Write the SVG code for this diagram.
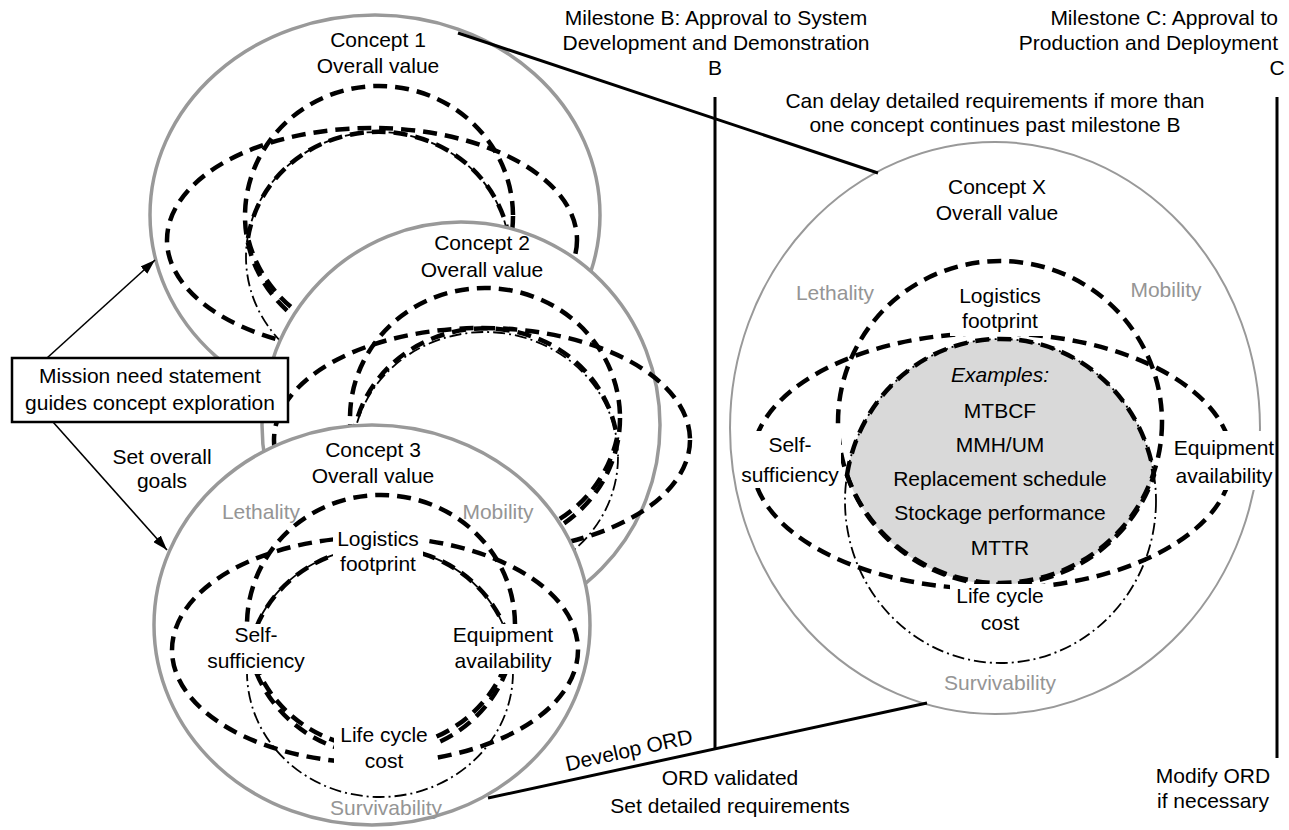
<svg xmlns="http://www.w3.org/2000/svg" width="1289" height="830" viewBox="0 0 1289 830">
<defs>
<style>
.outer{fill:#fff;stroke:#999;stroke-width:3.5}
.outerx{fill:#fff;stroke:#999;stroke-width:2}
.dash{fill:none;stroke:#000;stroke-width:4.5;stroke-dasharray:14 8}
.dd{fill:none;stroke:#000;stroke-width:1.8;stroke-dasharray:12 4 2 4}
.t{font-family:"Liberation Sans",Arial,Helvetica,sans-serif;font-size:21px;fill:#000;text-anchor:middle}
.gl{fill:#959595}
.bg{fill:#fff;stroke:none}
.ln{stroke:#000;stroke-width:3;fill:none}
.ar{stroke:#000;stroke-width:1.6;fill:none}
</style>
<marker id="ah" markerUnits="userSpaceOnUse" markerWidth="16" markerHeight="10" refX="15" refY="5" orient="auto">
<path d="M0,0 L15,5 L0,10 Z" fill="#000"/>
</marker>
</defs>
<rect width="1289" height="830" fill="#fff"/>

<g id="concept1">
<ellipse class="outer" cx="375" cy="215" rx="225" ry="200"/>
<ellipse class="dash" cx="379" cy="216" rx="134" ry="130"/>
<ellipse class="dash" cx="372" cy="240" rx="205" ry="112"/>
<ellipse class="dd" cx="378" cy="257" rx="132" ry="125"/>
<path class="dash" d="M 248 238 A 132 125 0 0 1 509 238 A 134 130 0 0 1 248 238 Z"/>
<text class="t" x="378" y="47">Concept 1</text>
<text class="t" x="378" y="73">Overall value</text>
</g>

<g id="concept2">
<ellipse class="outer" cx="461" cy="425" rx="199" ry="203"/>
<ellipse class="dash" cx="485" cy="418" rx="135" ry="130"/>
<ellipse class="dash" cx="482" cy="440" rx="208" ry="112"/>
<ellipse class="dd" cx="485" cy="457" rx="133" ry="125"/>
<path class="dash" d="M 353 438 A 133 125 0 0 1 617 438 A 135 130 0 0 1 353 438 Z"/>
<text class="t" x="482" y="250">Concept 2</text>
<text class="t" x="482" y="277">Overall value</text>
</g>

<g id="concept3">
<ellipse class="outer" cx="372" cy="625" rx="218" ry="200"/>
<ellipse class="dash" cx="381" cy="625" rx="134" ry="130"/>
<ellipse class="dash" cx="375" cy="650" rx="203" ry="113"/>
<ellipse class="dd" cx="380" cy="672" rx="133" ry="125"/>
<path class="dash" d="M 250 648 A 133 125 0 0 1 511 648 A 134 130 0 0 1 250 648 Z"/>
<text class="t" x="373" y="457">Concept 3</text>
<text class="t" x="373" y="483">Overall value</text>
<text class="t gl" x="261" y="519">Lethality</text>
<text class="t gl" x="498" y="519">Mobility</text>
<rect class="bg" x="333" y="528" width="90" height="48"/>
<text class="t" x="378" y="546">Logistics</text>
<text class="t" x="378" y="571">footprint</text>
<rect class="bg" x="205" y="624" width="103" height="50"/>
<text class="t" x="256" y="642">Self-</text>
<text class="t" x="256" y="668">sufficiency</text>
<rect class="bg" x="451" y="624" width="105" height="50"/>
<text class="t" x="503" y="642">Equipment</text>
<text class="t" x="503" y="668">availability</text>
<rect class="bg" x="334" y="724" width="101" height="50"/>
<text class="t" x="384" y="742">Life cycle</text>
<text class="t" x="384" y="768">cost</text>
<text class="t gl" x="386" y="815">Survivability</text>
</g>

<g id="conceptX">
<ellipse class="outerx" cx="995" cy="428" rx="265" ry="286"/>
<path d="M 847 475 A 155.5 162 0 0 1 1154 475 A 162 161 0 0 1 847 475 Z" fill="#d9d9d9"/>
<ellipse class="dash" cx="1000" cy="422" rx="162" ry="161"/>
<ellipse class="dash" cx="992" cy="461" rx="240" ry="128"/>
<ellipse class="dd" cx="1000.5" cy="501" rx="155.5" ry="162"/>
<path class="dash" d="M 847 475 A 155.5 162 0 0 1 1154 475 A 162 161 0 0 1 847 475 Z"/>
<text class="t" x="997" y="194">Concept X</text>
<text class="t" x="997" y="220">Overall value</text>
<text class="t gl" x="835" y="300">Lethality</text>
<text class="t gl" x="1166" y="297">Mobility</text>
<rect class="bg" x="950" y="283" width="98" height="53"/>
<text class="t" x="1000" y="303">Logistics</text>
<text class="t" x="1000" y="328">footprint</text>
<text class="t" x="1000" y="382" font-style="italic">Examples:</text>
<text class="t" x="1000" y="418">MTBCF</text>
<text class="t" x="1000" y="452">MMH/UM</text>
<text class="t" x="1000" y="486">Replacement schedule</text>
<text class="t" x="1000" y="520">Stockage performance</text>
<text class="t" x="1000" y="555">MTTR</text>
<rect class="bg" x="739" y="431" width="102" height="57"/>
<text class="t" x="790" y="452">Self-</text>
<text class="t" x="790" y="482">sufficiency</text>
<rect class="bg" x="1172" y="431" width="103" height="59"/>
<text class="t" x="1224" y="455">Equipment</text>
<text class="t" x="1224" y="483">availability</text>
<rect class="bg" x="950" y="584" width="100" height="52"/>
<text class="t" x="1000" y="603">Life cycle</text>
<text class="t" x="1000" y="630">cost</text>
<text class="t gl" x="1000" y="690">Survivability</text>
</g>

<g id="mission">
<rect x="12" y="358" width="276" height="64" fill="#fff" stroke="#000" stroke-width="2.5"/>
<text class="t" x="150" y="383">Mission need statement</text>
<text class="t" x="150" y="410">guides concept exploration</text>
</g>

<g id="connectors">
<line class="ar" x1="47" y1="358" x2="155" y2="260" marker-end="url(#ah)"/>
<line class="ar" x1="53" y1="422" x2="167" y2="550" marker-end="url(#ah)"/>
<line class="ln" x1="458" y1="33" x2="878" y2="173"/>
<line class="ln" x1="488" y1="798" x2="927" y2="703"/>
<line class="ln" x1="715" y1="97" x2="715" y2="749"/>
<line class="ln" x1="1277" y1="97" x2="1277" y2="758"/>
</g>

<g id="labels">
<text class="t" x="162" y="464">Set overall</text>
<text class="t" x="162" y="488">goals</text>
<text class="t" x="716" y="25">Milestone B: Approval to System</text>
<text class="t" x="716" y="50">Development and Demonstration</text>
<text class="t" x="715" y="75">B</text>
<text class="t" x="1278" y="25" text-anchor="end" style="text-anchor:end">Milestone C: Approval to</text>
<text class="t" x="1278" y="50" style="text-anchor:end">Production and Deployment</text>
<text class="t" x="1277" y="75">C</text>
<text class="t" x="995" y="108">Can delay detailed requirements if more than</text>
<text class="t" x="995" y="132">one concept continues past milestone B</text>
<text class="t" x="630.5" y="757" transform="rotate(-12.6 630.5 757)">Develop ORD</text>
<text class="t" x="730" y="785">ORD validated</text>
<text class="t" x="730" y="813">Set detailed requirements</text>
<text class="t" x="1213" y="783">Modify ORD</text>
<text class="t" x="1213" y="808">if necessary</text>
</g>
</svg>
